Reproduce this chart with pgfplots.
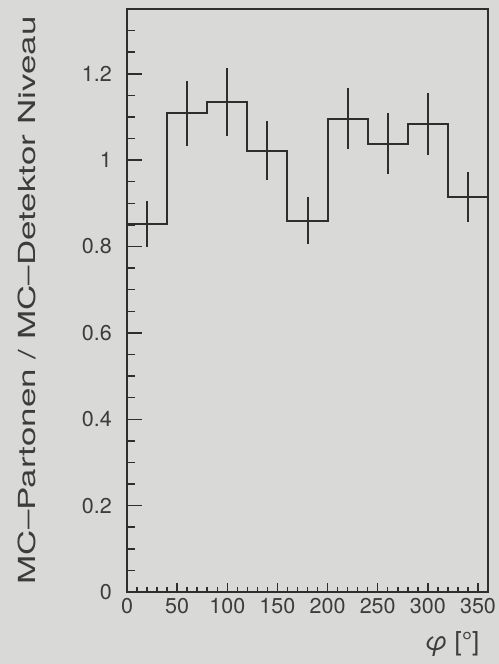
\documentclass[border=0pt]{standalone}
\usepackage{pgfplots}
\pgfplotsset{compat=1.18}
\usepackage{fontspec}
\setmainfont{TeX Gyre Heros}
\definecolor{bg}{HTML}{D9D9D8}
\definecolor{ink}{HTML}{2E2E2E}
\definecolor{txt}{HTML}{3C3C3C}

\pgfplotsset{
  frame/.style={
    at={(127bp,72bp)}, anchor=south west,
    scale only axis, width=361bp, height=583bp,
    xmin=0, xmax=360, ymin=0, ymax=1.35,
    tick align=inside,
    every tick/.style={ink, line width=1.5bp},
    axis line style={ink, line width=1.8bp},
    /pgf/number format/assume math mode=true,
    ticklabel style={text=txt, font=\fontsize{21.5bp}{21.5bp}\selectfont},
  },
}

\begin{document}
\begin{tikzpicture}[x=1bp,y=1bp]
\fill[bg] (0,0) rectangle (499,664);
\path[use as bounding box] (0,0) rectangle (499,664);
% x scale: short ticks along the bottom
\begin{axis}[frame,
  xtick={0,50,100,150,200,250,300,350},
  minor xtick={10,20,30,40,60,70,80,90,110,120,130,140,160,170,180,190,210,220,230,240,260,270,280,290,310,320,330,340},
  ytick=\empty, xtick pos=bottom,
  major tick length=9bp, minor tick length=4.5bp,
  xticklabel style={anchor=north, inner sep=0pt, yshift=-6bp},
  xlabel={\itshape φ\upshape\ [°]},
  xlabel style={at={(axis description cs:0.986,-0.09)}, anchor=east, text=txt,
    font=\fontsize{26bp}{26bp}\selectfont},
]
\end{axis}
% y scale and data
\begin{axis}[frame,
  xtick=\empty,
  ytick={0,0.2,0.4,0.6,0.8,1,1.2},
  minor ytick={0.05,0.1,0.15,0.25,0.3,0.35,0.45,0.5,0.55,0.65,0.7,0.75,0.85,0.9,0.95,1.05,1.1,1.15,1.25,1.3},
  ytick pos=left,
  major tick length=15bp, minor tick length=8bp,
  yticklabel style={anchor=east, inner sep=0pt, xshift=-15bp},
  ylabel={\scalebox{1.49}[1]{MC--Partonen / MC--Detektor Niveau}},
  ylabel style={at={(axis description cs:-0.277,0.5)}, anchor=center, text=txt,
    font=\fontsize{23.5bp}{23.5bp}\selectfont},
]
% ratio per 40-degree bin
\addplot[const plot, ink, line width=2bp] coordinates {
  (0,0.852) (40,1.108) (80,1.135) (120,1.022) (160,0.860)
  (200,1.096) (240,1.038) (280,1.083) (320,0.915) (360,0.915)
};
% statistical errors at bin centres
\addplot[draw=none, mark=none,
  error bars/.cd, y dir=both, y explicit, error mark=none,
  error bar style={draw=ink, line width=2bp}] coordinates {
  (20,0.852) +- (0,0.054)
  (60,1.108) +- (0,0.076)
  (100,1.135) +- (0,0.078)
  (140,1.022) +- (0,0.069)
  (180,0.860) +- (0,0.054)
  (220,1.096) +- (0,0.071)
  (260,1.038) +- (0,0.071)
  (300,1.083) +- (0,0.072)
  (340,0.915) +- (0,0.058)
};
\end{axis}
\end{tikzpicture}
\end{document}
